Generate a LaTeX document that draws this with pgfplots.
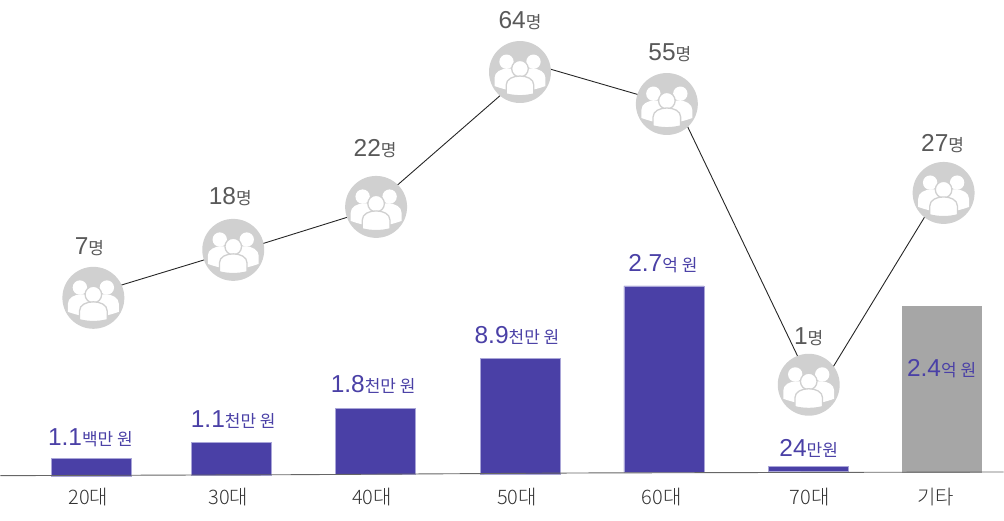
\documentclass[border=0pt]{standalone}
\usepackage{pgfplots}
\pgfplotsset{compat=1.18}
\usepackage{fontspec}
\setmainfont{Liberation Sans}
\newfontfamily\kr{Noto Sans CJK KR}
\newfontfamily\krl{Noto Sans CJK KR Light}
\definecolor{barblue}{HTML}{4A40A6}
\definecolor{baredge}{HTML}{A9A5D8}
\definecolor{bargray}{HTML}{A6A6A6}
\definecolor{icongray}{HTML}{D0D0D0}
\definecolor{labgray}{HTML}{595959}
\definecolor{tickgray}{HTML}{333333}
\newcommand\pp[2]{\pgfqpoint{#1pt}{#2pt}}
\pgfdeclareplotmark{people}{%
  \pgfsetstrokecolor{icongray}%
  \pgfsetfillcolor{icongray}\pgfpathcircle{\pgfpointorigin}{31pt}\pgfusepathqfill
  \pgfsetfillcolor{white}%
  \pgfpathcircle{\pp{-13.5}{10.3}}{7.2pt}\pgfusepathqfill
  \pgfpathcircle{\pp{13.5}{10.3}}{7.2pt}\pgfusepathqfill
  \pgfpathmoveto{\pp{-25.5}{-14}}\pgfpathlineto{\pp{-25.5}{-6}}%
  \pgfpathcurveto{\pp{-25.5}{0}}{\pp{-19}{3.5}}{\pp{-12}{3.5}}%
  \pgfpathlineto{\pp{12}{3.5}}%
  \pgfpathcurveto{\pp{19}{3.5}}{\pp{25.5}{0}}{\pp{25.5}{-6}}%
  \pgfpathlineto{\pp{25.5}{-14}}%
  \pgfpathcurveto{\pp{20}{-16}}{\pp{16}{-17}}{\pp{12}{-18}}%
  \pgfpathlineto{\pp{-12}{-18}}%
  \pgfpathcurveto{\pp{-16}{-17}}{\pp{-20}{-16}}{\pp{-25.5}{-14}}%
  \pgfpathclose\pgfusepathqfill
  \pgfsetlinewidth{1.3pt}%
  \pgfpathcircle{\pp{0}{3.3}}{8.3pt}\pgfusepathqfillstroke
  \pgfpathmoveto{\pp{-13.8}{-22}}\pgfpathlineto{\pp{-13.8}{-13}}%
  \pgfpathcurveto{\pp{-13.8}{-7}}{\pp{-7}{-4}}{\pp{0}{-4}}%
  \pgfpathcurveto{\pp{7}{-4}}{\pp{13.8}{-7}}{\pp{13.8}{-13}}%
  \pgfpathlineto{\pp{13.8}{-22}}%
  \pgfpathcurveto{\pp{5}{-24.3}}{\pp{-5}{-24.3}}{\pp{-13.8}{-22}}%
  \pgfpathclose\pgfusepathqfillstroke
}
\newcommand\val[2]{{\fontsize{24.5}{25}\selectfont #1}{\kr\fontsize{17}{17}\selectfont #2}}
\pgfplotsset{base/.style={
  scale only axis, width=1004pt, height=521pt,
  xmin=0, xmax=1004, ymin=-44, ymax=477,
  clip=false,
  axis line style={draw=none},
  major tick length=0pt,
  ytick=\empty,
}}
\begin{document}
\begin{tikzpicture}
\begin{axis}[base,
  ybar stacked, bar width=80pt,
  xtick={91,231,375,520,665,813,939},
  xticklabels={20대,30대,40대,50대,60대,70대,기타},
  xticklabel style={font=\krl\fontsize{20}{20}\selectfont, text=tickgray, yshift=36pt, xshift=-3pt},
]
\addplot[draw=none, fill=none] coordinates {(91,0) (231,1) (375.5,2) (520,2) (664,4) (809,5) (942,4)};
\addplot[fill=barblue, draw=baredge, line width=.6pt] coordinates {(91,18) (231,33) (375.5,66) (520,116) (664,187) (809,5) (942,0)};
\addplot[fill=bargray, draw=none] coordinates {(91,0) (231,0) (375.5,0) (520,0) (664,0) (809,0) (942,167)};
\end{axis}
\begin{axis}[base, xtick=\empty]
\addplot[draw=black!60, line width=.9pt] coordinates {(0,1) (300,2) (580,3.7) (1004,4.7)};
\pgfplotsset{cycle list={{draw=black!85, line width=.9pt}}}
\addplot[draw=black!85, line width=.9pt] coordinates {(119.8,191.4) (206,217.6)};
\addplot[draw=black!85, line width=.9pt] coordinates {(262,233.1) (349.3,260.3)};
\addplot[draw=black!85, line width=.9pt] coordinates {(396.8,291.4) (501.5,382.6)};
\addplot[draw=black!85, line width=.9pt] coordinates {(549,408.3) (639.3,382.1)};
\addplot[draw=black!85, line width=.9pt] coordinates {(687.4,351.1) (799.2,117.9)};
\addplot[draw=black!85, line width=.9pt] coordinates {(832.3,108) (925.3,260.4)};
\addplot[only marks, mark=people] coordinates {(93,179) (233,227) (376,270) (520,405) (667,373) (809,92) (944,284)};
\begin{scope}[every node/.style={text=labgray, inner sep=0pt}]
\node at (axis cs:89,230) {\val{7}{명}};
\node at (axis cs:230,280) {\val{18}{명}};
\node at (axis cs:375,328) {\val{22}{명}};
\node at (axis cs:520,456) {\val{64}{명}};
\node at (axis cs:670,424) {\val{55}{명}};
\node at (axis cs:809,140) {\val{1}{명}};
\node at (axis cs:943,333) {\val{27}{명}};
\end{scope}
\begin{scope}[every node/.style={text=barblue, inner sep=0pt}]
\node at (axis cs:90,39) {\val{1.1}{백만 원}};
\node at (axis cs:233,57) {\val{1.1}{천만 원}};
\node at (axis cs:373,92) {\val{1.8}{천만 원}};
\node at (axis cs:517,141) {\val{8.9}{천만 원}};
\node at (axis cs:663,213) {\val{2.7}{억 원}};
\node at (axis cs:809,28) {\val{24}{만원}};
\node at (axis cs:942,108) {\val{2.4}{억 원}};
\end{scope}
\end{axis}
\end{tikzpicture}
\end{document}
